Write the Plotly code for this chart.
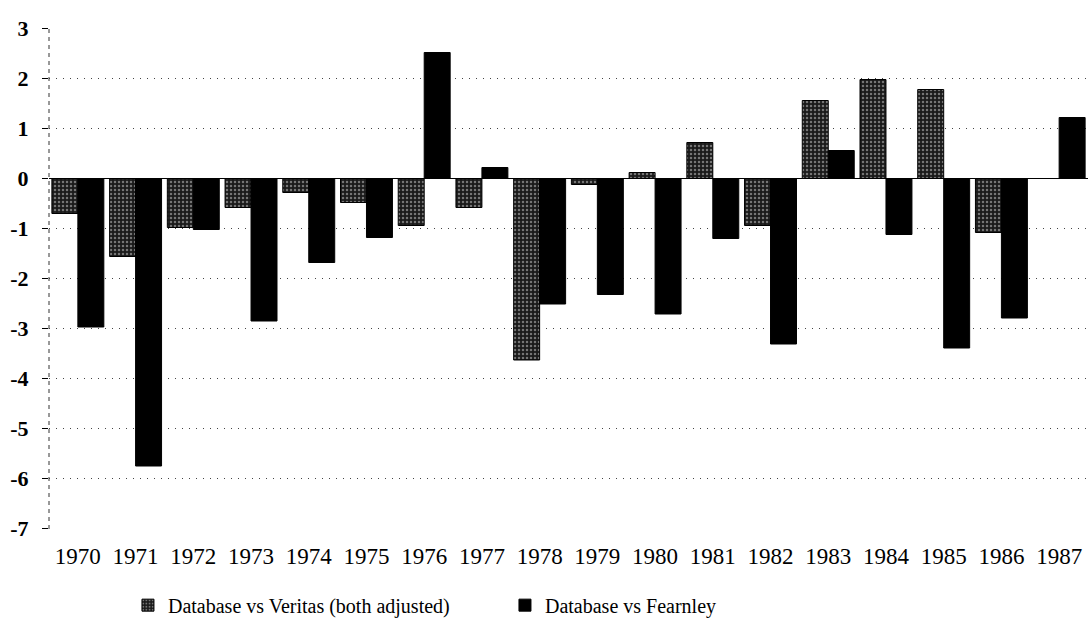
import plotly.graph_objects as go

# Yearly differences between the database and two reference sources
years = ["1970", "1971", "1972", "1973", "1974", "1975", "1976", "1977", "1978",
         "1979", "1980", "1981", "1982", "1983", "1984", "1985", "1986", "1987"]
veritas = [-0.70, -1.56, -0.98, -0.58, -0.28, -0.48, -0.94, -0.58, -3.63,
           -0.12, 0.12, 0.72, -0.94, 1.56, 1.98, 1.78, -1.08, 0.0]
fearnley = [-2.97, -5.75, -1.02, -2.85, -1.68, -1.18, 2.52, 0.22, -2.51,
            -2.32, -2.71, -1.20, -3.31, 0.56, -1.12, -3.39, -2.79, 1.22]
y_ticks = [3, 2, 1, 0, -1, -2, -3, -4, -5, -6, -7]

SERIF = "Times New Roman, Liberation Serif, serif"
W, H = 1088, 620
ML, MR, MT, MB = 49, 0, 28, 91

fig = go.Figure()
fig.add_trace(go.Bar(
    x=years, y=veritas, name="Database vs Veritas (both adjusted)",
    marker=dict(color="#1a1a1a", line=dict(color="black", width=1),
                pattern=dict(shape=".", fgcolor="#cfcfcf", size=4, solidity=0.3,
                             fillmode="overlay")),
))
fig.add_trace(go.Bar(
    x=years, y=fearnley, name="Database vs Fearnley",
    marker=dict(color="black", line=dict(color="black", width=1)),
))

fig.update_layout(
    width=W, height=H,
    margin=dict(l=ML, r=MR, t=MT, b=MB, autoexpand=False),
    paper_bgcolor="white", plot_bgcolor="white",
    barmode="group", bargap=0.1, bargroupgap=0.0,
    font=dict(family=SERIF, color="black", size=19),
    showlegend=True,
    legend=dict(orientation="h", x=0.076, xanchor="left", y=-0.152, yanchor="middle",
                entrywidth=332, entrywidthmode="pixels",
                font=dict(family=SERIF, size=20, color="black"),
                bgcolor="rgba(0,0,0,0)"),
    xaxis=dict(type="category", range=[-0.5, 17.5], ticks="", showgrid=False,
               showline=False, zeroline=False, ticklabelstandoff=11,
               tickfont=dict(family=SERIF, size=23, color="black")),
    yaxis=dict(range=[-7.01, 3.01], tickmode="array", tickvals=y_ticks,
               ticktext=[str(v) for v in y_ticks],
               ticks="outside", ticklen=6, tickcolor="black", tickwidth=1,
               ticklabelstandoff=9,
               tickfont=dict(family=SERIF, size=22, color="black", weight="bold"),
               showgrid=True, gridcolor="#444444", gridwidth=1, griddash="1px,6px",
               zeroline=True, zerolinecolor="black", zerolinewidth=1,
               showline=False),
)

# dashed value-axis line
fig.add_shape(type="line", xref="paper", yref="paper", x0=0, x1=0,
              y0=0, y1=1, line=dict(color="#333333", width=1, dash="4px,4px"),
              layer="below")

fig.write_html("out.html")
